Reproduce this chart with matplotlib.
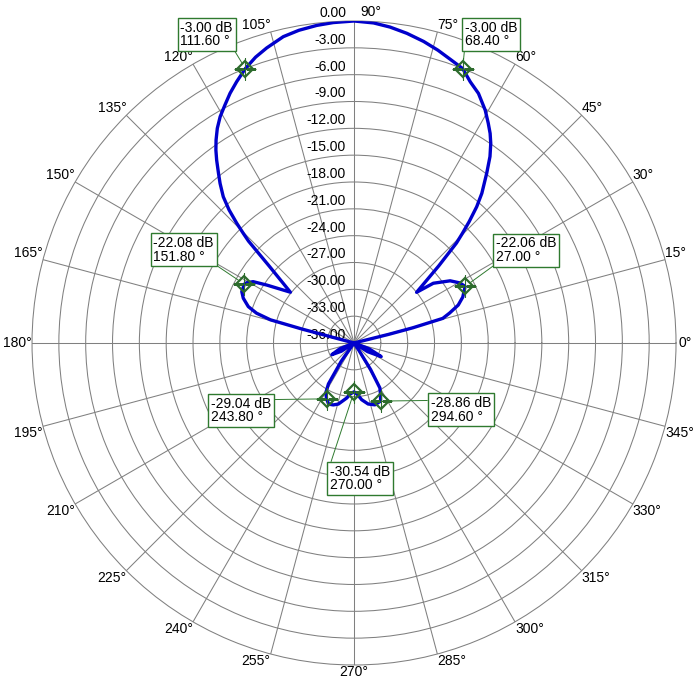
import numpy as np
import matplotlib
matplotlib.use('Agg')
import matplotlib.pyplot as plt

plt.rcParams['font.family'] = ['Liberation Sans', 'DejaVu Sans']

# radiation pattern (deg, dB); -36 = at/below the floor
angles_deg = [0, 13.5, 14, 14.5, 15.5, 17.4, 20, 22.9, 27, 29.6, 32.9, 37, 39,
              42.3, 44.3, 45.3, 46.5, 48, 49.5, 52, 53.9, 55.6, 57, 58.6, 60.6,
              63.5, 66, 68.4, 71.3, 74, 77, 80.3, 83.5, 86.5, 90, 93.7, 96.7,
              100, 103, 106.5, 109, 111.6, 114.2, 116.4, 118.5, 120.6, 122.5,
              124.2, 125.6, 126.9, 128.6, 130, 131.8, 133.2, 134.4, 135.3, 136,
              137.8, 141.4, 146.4, 148.7, 150.7, 151.8, 155.4, 158, 161, 163,
              164.5, 165, 165.5, 180, 197, 202, 207.7, 213, 218, 232, 235, 238,
              240.5, 243.8, 247.5, 251.5, 255.6, 262.5, 266, 270, 274, 277.7,
              283, 288.7, 294.6, 297.5, 299.9, 302, 303.5, 305, 322, 327.5,
              333.4, 339, 344, 360]
gain_db = [-36, -36, -32, -29.2, -25.7, -24.8, -23.6, -22.8, -22.06, -22.4, -23.2,
           -24.9, -27.0,
           -23.2, -20.0, -18.8, -17.3, -15.5, -14.0, -11.9, -10.2, -8.94, -8.06,
           -7.2, -6.12, -4.82, -4.04, -3.0, -2.5, -1.95, -1.4, -0.88, -0.45,
           -0.15, 0, -0.1, -0.25, -0.5, -0.85, -1.6, -2.2, -3.0, -3.98, -4.83,
           -5.74, -6.6, -7.55, -8.56, -9.47, -10.42, -11.71, -12.7, -14.07,
           -15.6, -17.26, -18.6, -19.6, -23.2, -26.9, -24.3, -22.8, -22.24,
           -22.08, -22.2, -22.65, -23.5, -24.6, -26.3, -30, -36, -36, -36,
           -34.3, -33.2, -34.3, -36, -36, -33.5, -30.6, -29.6, -29.04, -28.6,
           -28.7, -28.95, -29.8, -30.3, -30.54, -30.2, -29.6, -29.0, -28.7,
           -28.86, -29.6, -30.2, -32.5, -35, -36, -36, -34.2, -32.6, -34.2,
           -36, -36]

# marker readouts
marker_angles = [111.6, 68.4, 151.8, 27.0, 243.8, 270.0, 294.6]
marker_db = [-3.00, -3.00, -22.08, -22.06, -29.04, -30.54, -28.86]

ring_db = np.arange(-36, 1, 3)
spoke_deg = np.arange(0, 360, 15)

# where each readout box sits (pixels from its marker) and where its leader leaves the box
box_offsets = [(-65, 48), (2, 48), (-91, 48), (31, 50), (-116, 2), (-24, -73), (50, 5)]
leader_pos = [(1, 0), (0, 0), (1, 0), (0, 0), (1, 0.9), (0, 1), (0, 0.84)]

grid_col = '#808080'
line_col = '#0000cc'
mk_col = '#2d6b2d'
box_col = '#2f7a2f'
fs = 10

fig = plt.figure(figsize=(6.96, 6.84), dpi=100)
ax = fig.add_axes([0.0460, 0.0278, 0.9253, 0.9415], projection='polar')
ax.set_rlim(-36, 0)
ax.set_thetagrids(spoke_deg, labels=[''] * len(spoke_deg))
ax.set_rgrids(ring_db[1:-1], labels=[''] * (len(ring_db) - 2))
ax.grid(True, color=grid_col, lw=0.75)
ax.spines['polar'].set_color(grid_col)
ax.spines['polar'].set_linewidth(0.75)
ax.tick_params(length=0)

th = np.radians(angles_deg)
ax.plot(th, np.clip(gain_db, -36, 0), color=line_col, lw=2.4, zorder=3)

# ring labels up the 90 deg spoke
for v in ring_db:
    ax.annotate(f'{v:.2f}', xy=(np.pi / 2, v), xytext=(-8, 1), textcoords='offset pixels',
                ha='right', va='bottom', fontsize=fs, zorder=2, annotation_clip=False)

# angle labels round the outside
for a in spoke_deg:
    c, s = np.cos(np.radians(a)), np.sin(np.radians(a))
    ha = 'left' if c > 1e-6 else ('right' if c < -1e-6 else 'center')
    va = 'bottom' if s > 1e-6 else ('top' if s < -1e-6 else 'center')
    off = (2, 0) if a == 0 else (0, 0)
    if a == 90:
        ha, off = 'left', (6, 2)
    ax.annotate(f'{a}°', xy=(np.radians(a), 0), xytext=off, textcoords='offset pixels',
                ha=ha, va=va, fontsize=fs, annotation_clip=False)

mth = np.radians(marker_angles)
ax.plot(mth, marker_db, ls='none', marker='+', ms=16, mew=0.8, color=mk_col, zorder=4)
ax.plot(mth, marker_db, ls='none', marker='D', ms=8.5, mew=1.6, mfc='none', mec=mk_col, zorder=5)

for t, v, a, off, rp in zip(mth, marker_db, marker_angles, box_offsets, leader_pos):
    ax.annotate(f'{v:.2f} dB\n{a:.2f} °', xy=(t, v), xytext=off, textcoords='offset pixels',
                ha='left', va='top', fontsize=fs, linespacing=0.95, zorder=6,
                bbox=dict(boxstyle='square,pad=0.2', fc='white', ec=box_col, lw=1),
                arrowprops=dict(arrowstyle='-', color=box_col, lw=0.7, relpos=rp,
                                shrinkA=0, shrinkB=5),
                annotation_clip=False)

fig.savefig('out.png', dpi=100, facecolor='white')
